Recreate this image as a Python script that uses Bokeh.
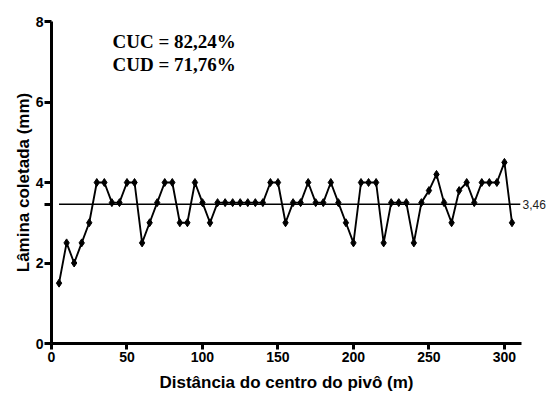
from bokeh.plotting import figure
from bokeh.models import FixedTicker, Range1d, Label, LinearAxis
from bokeh.embed import file_html
from bokeh.resources import INLINE

# Data: distance from pivot centre (m) and collected depth (mm)
distance_m = [5, 10, 15, 20, 25, 30, 35, 40, 45, 50,
              55, 60, 65, 70, 75, 80, 85, 90, 95, 100,
              105, 110, 115, 120, 125, 130, 135, 140, 145, 150,
              155, 160, 165, 170, 175, 180, 185, 190, 195, 200,
              205, 210, 215, 220, 225, 230, 235, 240, 245, 250,
              255, 260, 265, 270, 275, 280, 285, 290, 295, 300, 305]
depth_mm = [1.5, 2.5, 2.0, 2.5, 3.0, 4.0, 4.0, 3.5, 3.5, 4.0,
            4.0, 2.5, 3.0, 3.5, 4.0, 4.0, 3.0, 3.0, 4.0, 3.5,
            3.0, 3.5, 3.5, 3.5, 3.5, 3.5, 3.5, 3.5, 4.0, 4.0,
            3.0, 3.5, 3.5, 4.0, 3.5, 3.5, 4.0, 3.5, 3.0, 2.5,
            4.0, 4.0, 4.0, 2.5, 3.5, 3.5, 3.5, 2.5, 3.5, 3.8,
            4.2, 3.5, 3.0, 3.8, 4.0, 3.5, 4.0, 4.0, 4.0, 4.5, 3.0]
mean_value = 3.46
mean_span = [5, 310.5]
x_ticks = [0, 50, 100, 150, 200, 250, 300]
y_ticks = [0, 2, 4, 6, 8]
stats_lines = ["CUC = 82,24%", "CUD = 71,76%"]
mean_label = "3,46"

p = figure(width=551, height=401, output_backend="svg", toolbar_location=None,
           x_range=Range1d(0, 311.3), y_range=Range1d(0, 8),
           min_border_left=51, min_border_right=30, min_border_top=21,
           min_border_bottom=58)
p.outline_line_color = None
p.xgrid.visible = False
p.ygrid.visible = False
p.background_fill_color = "white"
p.border_fill_color = "white"

# mean line
p.line(mean_span, [mean_value, mean_value], line_color="black", line_width=1.6)
# data
p.line(distance_m, depth_mm, line_color="black", line_width=1.9)
p.scatter(distance_m, depth_mm, marker="diamond", size=8, fill_color="black",
          line_color="black", line_width=1)

# axes
for ax in (p.xaxis[0], p.yaxis[0]):
    ax.axis_line_width = 3
    ax.axis_line_color = "black"
    ax.major_tick_line_width = 3
    ax.major_tick_line_color = "black"
    ax.major_tick_in = 0
    ax.minor_tick_line_color = None
    ax.major_label_text_font = "Liberation Sans"
    ax.major_label_text_font_style = "bold"
    ax.major_label_text_font_size = "14px"
    ax.major_label_text_color = "black"
    ax.axis_label_text_font = "Liberation Sans"
    ax.axis_label_text_font_style = "bold"
    ax.axis_label_text_font_size = "17px"
    ax.axis_label_text_color = "black"

p.xaxis.ticker = FixedTicker(ticks=x_ticks)
p.xaxis.major_tick_out = 6
p.xaxis.major_label_standoff = 2
p.xaxis.axis_label = "Distância do centro do pivô (m)"
p.xaxis.axis_label_standoff = 8

p.yaxis.ticker = FixedTicker(ticks=y_ticks + [mean_value])
p.yaxis.major_label_overrides = {mean_value: ""}
p.yaxis.major_tick_out = 7
p.yaxis.major_label_standoff = 1
p.yaxis.major_label_text_baseline = "alphabetic"
p.yaxis.axis_label = "Lâmina coletada (mm)"
p.yaxis.axis_label_standoff = 0

# right-hand label for the mean line
r_ax = LinearAxis(ticker=FixedTicker(ticks=[mean_value]),
                  major_label_overrides={mean_value: mean_label})
r_ax.axis_line_color = None
r_ax.major_tick_line_color = None
r_ax.minor_tick_line_color = None
r_ax.major_tick_out = 0
r_ax.major_tick_in = 0
r_ax.major_label_standoff = 1
r_ax.major_label_text_font = "Liberation Sans"
r_ax.major_label_text_font_size = "12px"
r_ax.major_label_text_color = "#222222"
p.add_layout(r_ax, "right")

# stats text
for txt, yy in zip(stats_lines, [7.50, 6.94]):
    p.add_layout(Label(x=40.4, y=yy, text=txt, text_font="Liberation Serif",
                       text_font_style="bold", text_font_size="19px",
                       text_color="black", text_baseline="alphabetic"))

open("out.html", "w").write(file_html(p, INLINE))
